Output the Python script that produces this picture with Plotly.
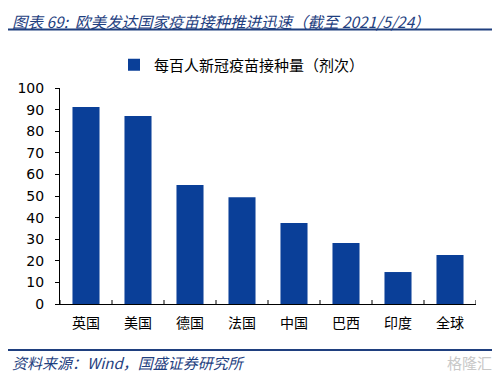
import plotly.graph_objects as go

categories = ["英国", "美国", "德国", "法国", "中国", "巴西", "印度", "全球"]
doses_per_100 = [91.2, 87.0, 55.1, 49.4, 37.5, 28.2, 14.8, 22.7]
y_ticks = [0, 10, 20, 30, 40, 50, 60, 70, 80, 90, 100]

series_name = "每百人新冠疫苗接种量（剂次）"
title_text = "图表 69:  欧美发达国家疫苗接种推进迅速（截至 2021/5/24）"
source_text = "资料来源：Wind，国盛证券研究所"

BAR = "#0A3F98"
NAVY = "#1F3F7F"
CJK = "Noto Sans CJK SC"

# page body has an 8px margin; figure is sized so it ends at the window edge
OFF = 8
W, H = 500 - OFF, 378 - OFF
# desired window-pixel positions of the plot area
PL, PR, PT, PB = 60, 476, 88, 304
L, R, T, B = PL - OFF, W - (PR - OFF), PT - OFF, H - (PB - OFF)
ph = H - T - B
pw = W - L - R

def py(y):  # window pixel y -> paper y
    return (PB - y) / ph

def px(x):  # window pixel x -> paper x
    return (x - PL) / pw

fig = go.Figure()
fig.add_trace(go.Bar(
    x=categories, y=doses_per_100, name=series_name,
    marker=dict(color=BAR, line=dict(width=0)),
    width=0.52, showlegend=True,
))

n = len(categories)
fig.update_layout(
    width=W, height=H,
    margin=dict(l=L, r=R, t=T, b=B, autoexpand=False),
    paper_bgcolor="white", plot_bgcolor="white",
    font=dict(family=CJK, color="black"),
    showlegend=True,
    legend=dict(
        orientation="h", x=px(114), y=py(65), xanchor="left", yanchor="middle",
        font=dict(family=CJK, size=15, color="black"),
        itemwidth=30, bgcolor="rgba(0,0,0,0)",
    ),
    xaxis=dict(
        range=[-0.5, n - 0.5],
        showline=True, linecolor="black", linewidth=1,
        ticks="", ticklabelstandoff=6,
        tickfont=dict(family=CJK, size=14, color="black"),
        showgrid=False, fixedrange=True,
    ),
    yaxis=dict(
        range=[0, 100], tickvals=y_ticks,
        showline=True, linecolor="black", linewidth=1,
        ticks="outside", ticklen=4, tickcolor="black",
        ticklabelstandoff=8,
        tickfont=dict(family="DejaVu Sans", size=14, color="black"),
        showgrid=False, zeroline=False, fixedrange=True,
    ),
)

shapes = []
for i in range(n + 1):
    shapes.append(dict(type="line", xref="x", yref="paper",
                       x0=i - 0.5, x1=i - 0.5, y0=0, y1=py(300),
                       line=dict(color="black", width=1)))
shapes.append(dict(type="line", xref="paper", yref="paper",
                   x0=px(0), x1=px(500), y0=py(29.5), y1=py(29.5),
                   line=dict(color=NAVY, width=2)))
shapes.append(dict(type="line", xref="paper", yref="paper",
                   x0=px(0), x1=px(500), y0=py(350), y1=py(350),
                   line=dict(color=NAVY, width=2)))
fig.update_layout(shapes=shapes)

fig.add_annotation(text="<i>" + title_text + "</i>", xref="paper", yref="paper",
                   x=px(10), y=py(8), xanchor="left", yanchor="top",
                   showarrow=False, font=dict(family=CJK, size=15.5, color=NAVY))
fig.add_annotation(text="<i>" + source_text + "</i>", xref="paper", yref="paper",
                   x=px(10), y=py(362), xanchor="left", yanchor="middle",
                   showarrow=False, font=dict(family=CJK, size=15, color=NAVY))
fig.add_annotation(text="格隆汇", xref="paper", yref="paper",
                   x=px(494), y=py(362), xanchor="right", yanchor="middle",
                   showarrow=False, font=dict(family=CJK, size=15, color="#C8C8C8"))

fig.write_html("out.html")
